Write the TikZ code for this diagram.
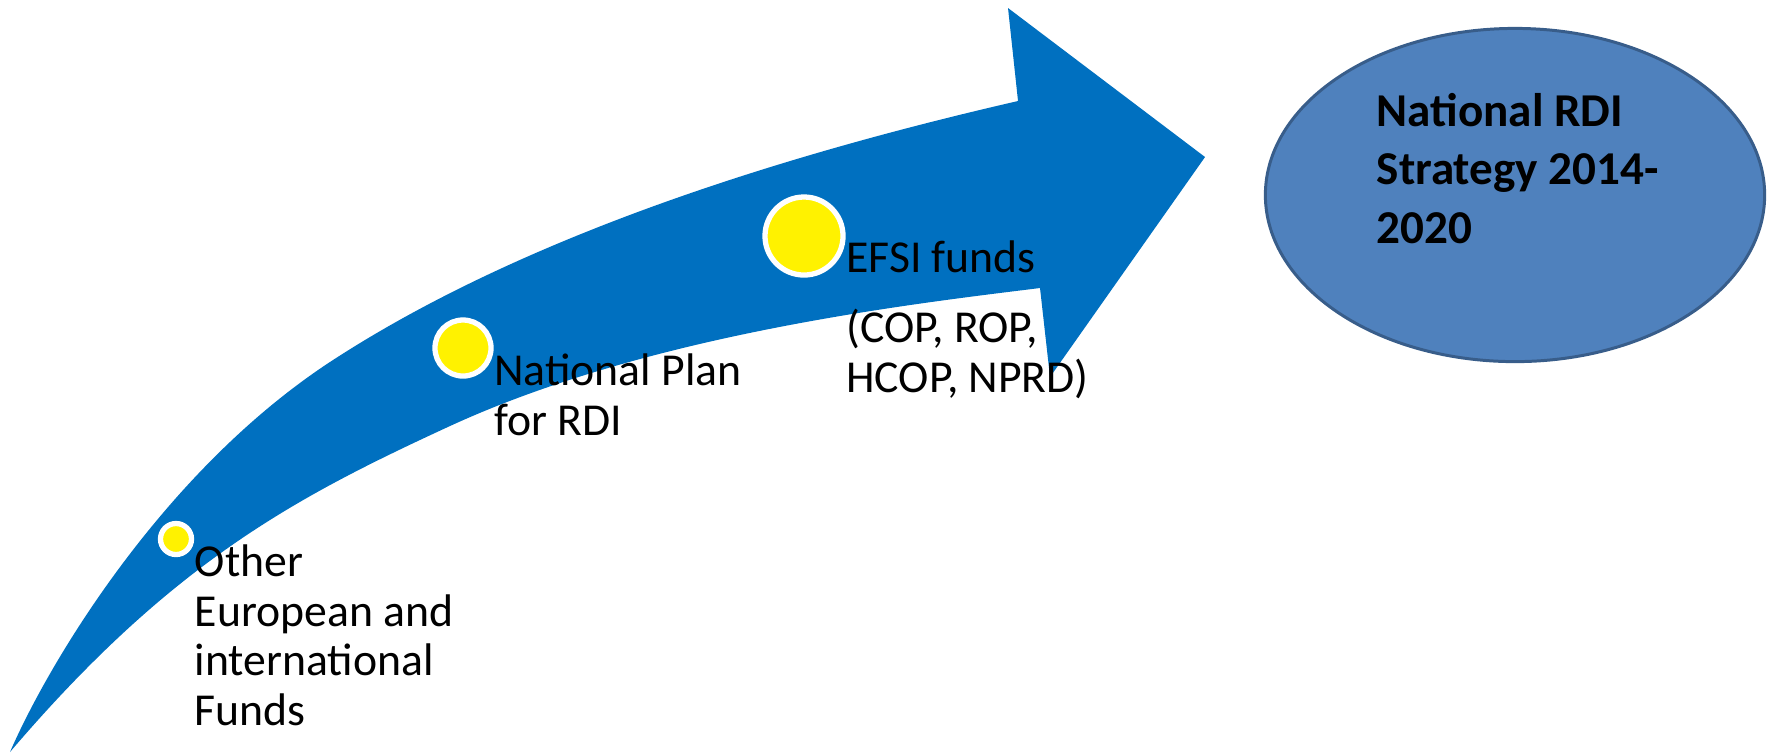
\documentclass[tikz,border=0pt]{standalone}
\usepackage{fontspec}
\setmainfont{Carlito}
\usepackage{tikz}
\usetikzlibrary{shapes.geometric}
\usetikzlibrary{positioning}
\definecolor{arrowblue}{HTML}{0070C0}
\definecolor{goalfill}{HTML}{4F81BD}
\definecolor{goaldraw}{HTML}{385D8A}
\tikzset{
    fund/.style={
           circle,
           draw=white, line width=1.5pt,
           fill=yellow,
           inner sep=0pt,
           },
}
\tikzset{
    lbl/.style={
           align=left,
           inner sep=0pt,
           font=\fontsize{13}{14.08}\selectfont,
           },
}
\tikzset{
    goal/.style={
           ellipse,
           draw=goaldraw, line width=0.85pt,
           fill=goalfill,
           inner sep=0pt,
           minimum width=4.99cm, minimum height=3.33cm,
           },
}
\begin{document}
\begin{tikzpicture}[x=0.01cm,y=-0.01cm]
\useasboundingbox (0,0) rectangle (1774,753);
% curved arrow
\fill[arrowblue] (10,752) .. controls (50,660) and (165,469) .. (333,360)
  .. controls (501,251) and (735,166) .. (1018,101)
  -- (1008,8) -- (1205,157) -- (1050,377) -- (1040,288)
  .. controls (911,304) and (650,334) .. (450,426)
  .. controls (296,497) and (172,562) .. (10,752) -- cycle;
% funds on the arrow
\node[fund,minimum size=0.31cm](other) at (176,539){};
\node[fund,minimum size=0.56cm](plan) at (463,348){};
\node[fund,minimum size=0.78cm](efsi) at (804,236){};
% base west = baseline of the last line
\node[lbl,below right=1.86cm and 0cm of other.east,anchor=base west](otherlbl){Other\\European and\\international\\Funds};
\node[lbl,below right=0.87cm and 0cm of plan.east,anchor=base west](planlbl){National Plan\\for RDI};
\node[lbl,below right=1.56cm and 0cm of efsi.east,anchor=base west](efsilbl){EFSI funds\\[0.21cm](COP, ROP,\\HCOP, NPRD)};
% strategy
\node[goal](strat) at (1515,195){};
\node[lbl,font=\fontsize{13.4}{16.5}\selectfont\bfseries,anchor=base west](stratlbl) at (1376,243){National RDI\\Strategy 2014-\\2020};
\end{tikzpicture}
\end{document}
